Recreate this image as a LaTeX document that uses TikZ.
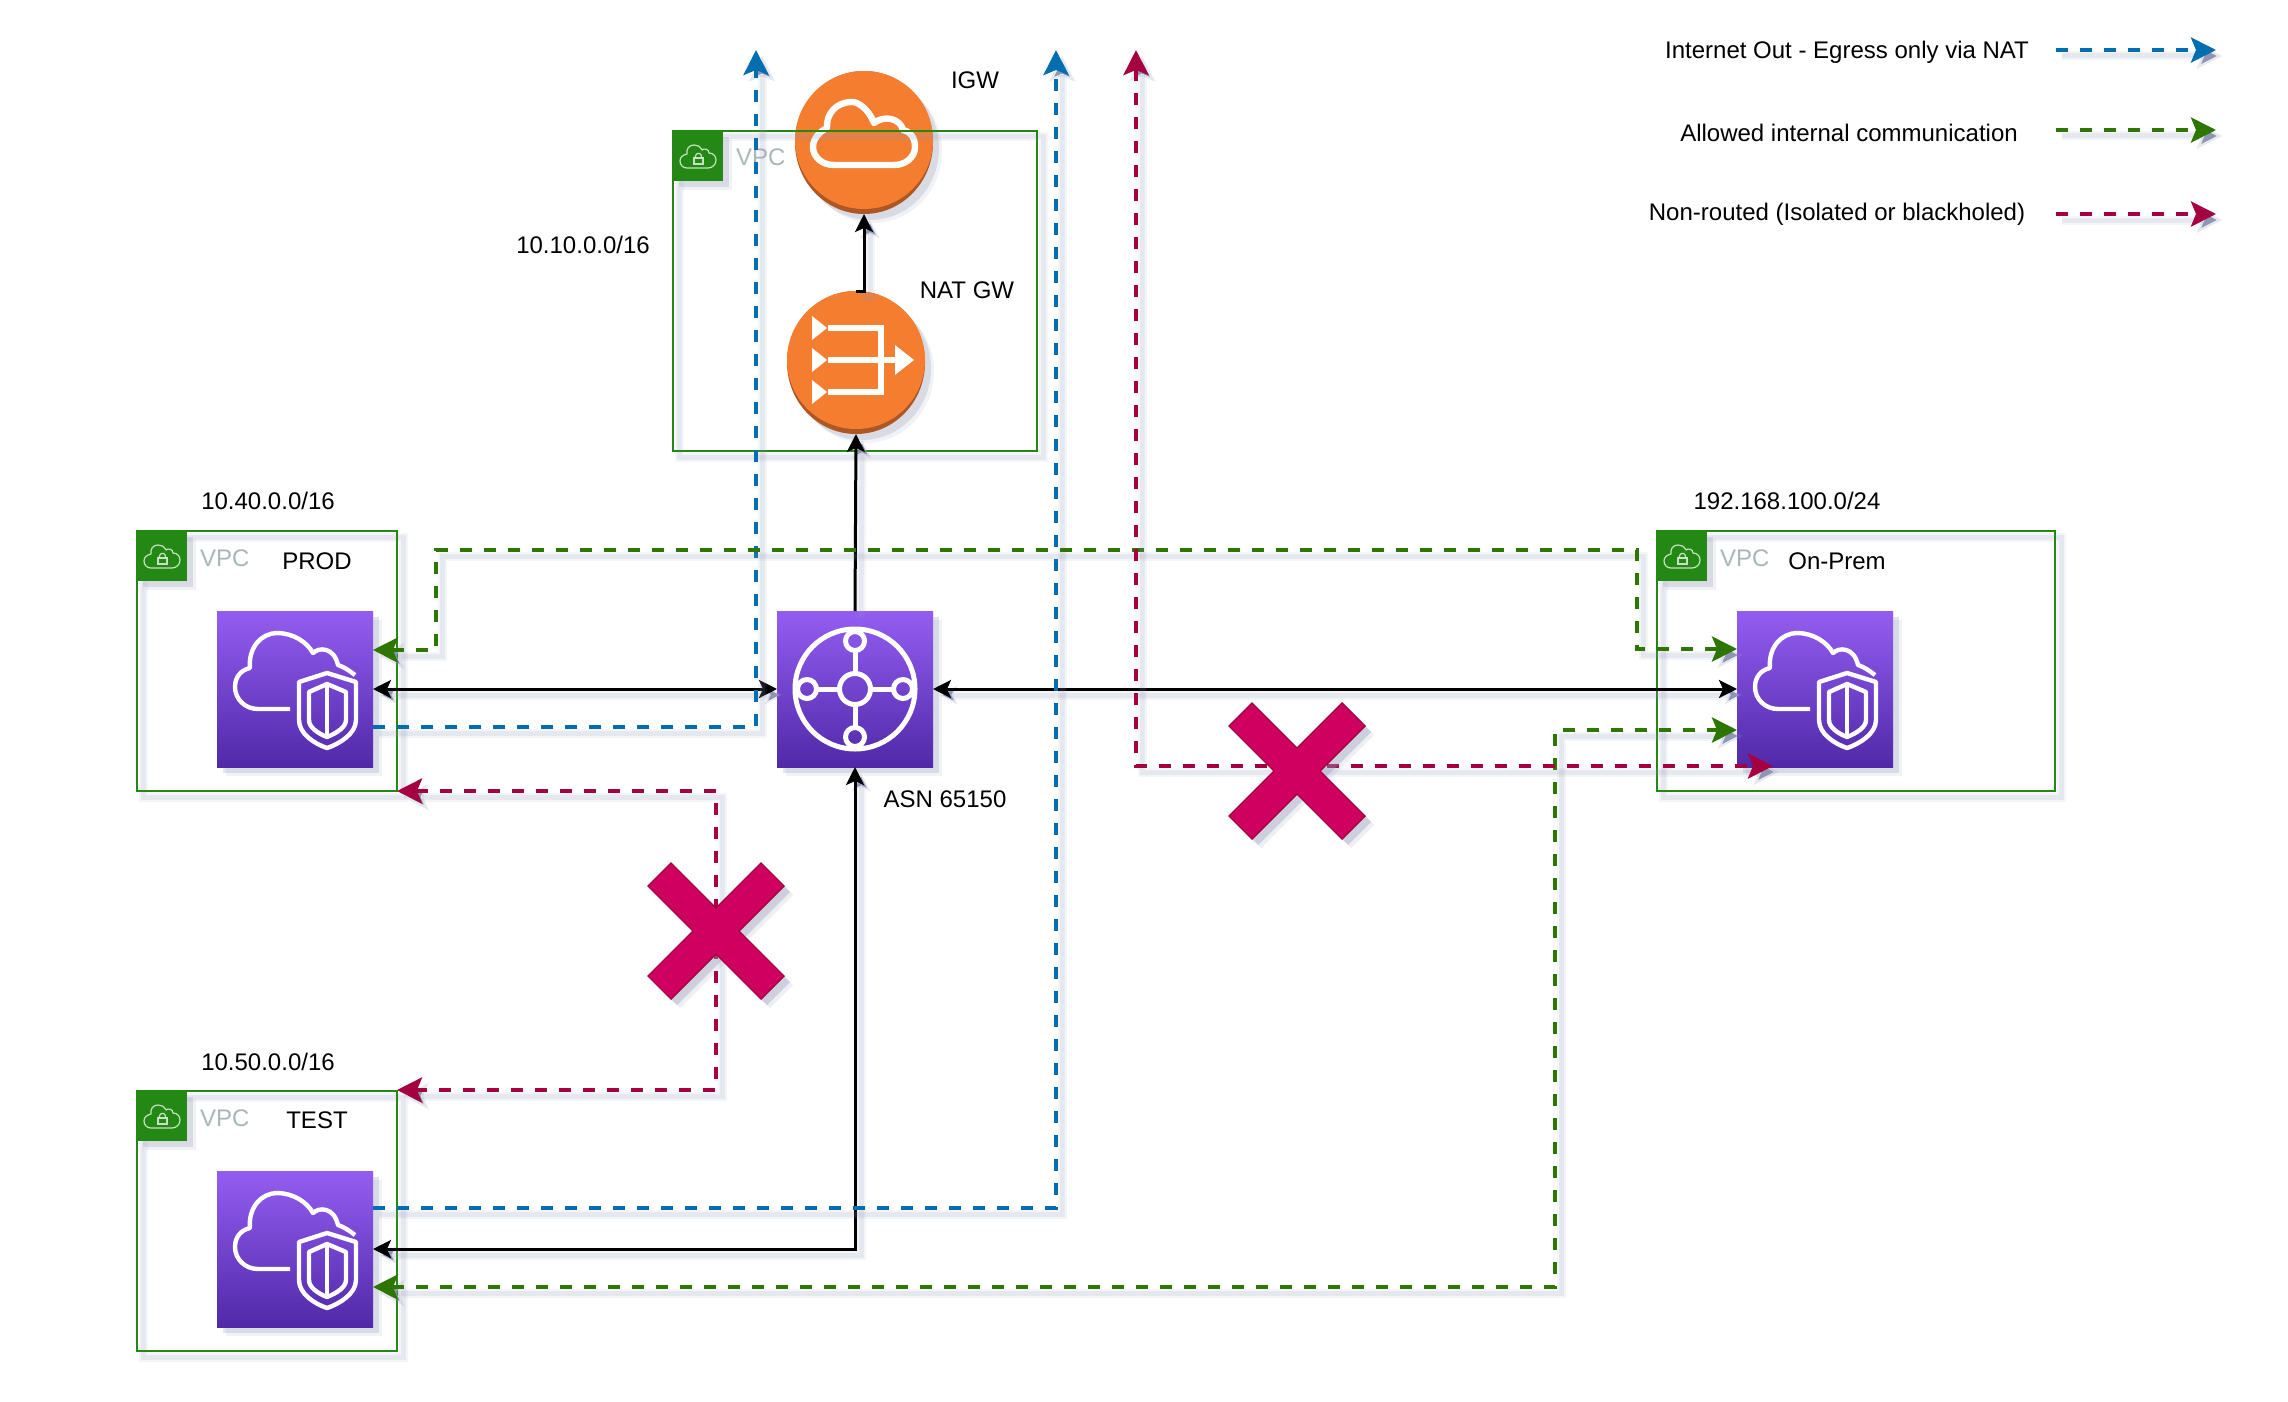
\documentclass[tikz,border=0pt]{standalone}
\usepackage{fontspec}
\setmainfont{Liberation Sans}
\usetikzlibrary{arrows.meta,shadows,calc,shapes.geometric}
\definecolor{shcol}{HTML}{8E96B4}
\definecolor{vpcgreen}{HTML}{248814}
\definecolor{vpcgrey}{HTML}{AAB7B8}
\definecolor{awsorange}{HTML}{F47D30}
\definecolor{awsdark}{HTML}{AD5724}
\definecolor{pTop}{HTML}{945DF2}
\definecolor{pBot}{HTML}{5029A8}
\definecolor{flowblue}{HTML}{006EAF}
\definecolor{flowgreen}{HTML}{2D7600}
\definecolor{flowred}{HTML}{A50040}
\definecolor{xfill}{HTML}{D00060}
\tikzset{
  gt/.tip={Stealth[length=25pt,width=25pt,inset=5pt]},
  bt/.tip={Stealth[length=18pt,width=18pt,inset=4pt]},
  softshadow/.style={
    drop shadow={shadow xshift=9pt,shadow yshift=-9pt,fill=shcol,opacity=.12},
    drop shadow={shadow xshift=6pt,shadow yshift=-6pt,fill=shcol,opacity=.25}},
  lineshadow/.style={
    preaction={draw=shcol,draw opacity=.09,line width=9pt,transform canvas={shift={(6pt,-6pt)}}},
    preaction={draw=shcol,draw opacity=.13,line width=5pt,transform canvas={shift={(6pt,-6pt)}}}},
  flowbase/.style={line width=4pt,dash pattern=on 12pt off 12pt,lineshadow},
  blueflow/.style={flowbase,draw=flowblue},
  greenflow/.style={flowbase,draw=flowgreen},
  redflow/.style={flowbase,draw=flowred},
  blackflow/.style={line width=3pt,draw=black,lineshadow},
  vpcbox/.style={draw=vpcgreen,line width=2.4pt,outer sep=0pt,inner sep=0pt,lineshadow},
  vpcbadge/.style={fill=vpcgreen,minimum size=50pt,inner sep=0pt,outer sep=0pt,softshadow},
  purplesq/.style={minimum size=156pt,inner sep=0pt,outer sep=0pt,top color=pTop,bottom color=pBot,softshadow},
  lipcircle/.style={ellipse,minimum width=138pt,minimum height=143pt,inner sep=0pt,outer sep=0pt,fill=awsdark,softshadow},
  label/.style={font=\fontsize{24}{28}\selectfont,text=black,inner sep=0pt},
  vpclabel/.style={font=\fontsize{24}{28}\selectfont,text=vpcgrey,inner sep=0pt,anchor=west},
  cloudshield/.pic={
    \draw[white,line width=4.4pt,line join=round,line cap=butt]
      (-5,20) -- (-37,20) .. controls (-50,20) and (-60,10) .. (-60,-2)
      .. controls (-60,-12) and (-54,-19) .. (-45,-21)
      .. controls (-47,-42) and (-33,-56) .. (-18,-56)
      .. controls (-2,-56) and (12,-47) .. (18,-36)
      .. controls (24,-42) and (39,-42) .. (43,-24)
      .. controls (49,-22) and (55,-18) .. (60,-14);
    \draw[white,line width=4.4pt,line join=round]
      (32,-16) -- (61,-7) -- (61,31) .. controls (61,45) and (44,55) .. (32,59)
      .. controls (20,55) and (4,45) .. (4,31) -- (4,-7) -- cycle;
    \draw[white,line width=4.4pt,line join=round]
      (32,-5) -- (51,3) -- (51,31) .. controls (51,38) and (42,44) .. (32,48)
      .. controls (22,44) and (14,38) .. (14,31) -- (14,3) -- cycle;
    \draw[white,line width=4.4pt] (32,-5) -- (32,48);
  },
  hubicon/.pic={
    \draw[white,line width=5pt] (0,0) circle[radius=60];
    \draw[white,line width=5pt] (0,0) circle[radius=15.5];
    \foreach \a in {0,90,180,270}{
      \draw[white,line width=5pt] (\a:15.5) -- (\a:38);
      \draw[white,line width=5pt] (\a:48) circle[radius=9.5];
    }
  },
  igwicon/.pic={
    \draw[white,line width=6.4pt,line join=round]
      (-30,25) -- (30,25) .. controls (42,25) and (51,17) .. (51,7)
      .. controls (51,-2) and (47,-8) .. (39,-10)
      .. controls (36,-22) and (20,-25) .. (10,-17)
      .. controls (5,-30) and (-5,-38) .. (-12,-38)
      .. controls (-28,-38) and (-38,-26) .. (-37,-12)
      .. controls (-45,-8) and (-51,-1) .. (-51,7)
      .. controls (-51,17) and (-42,25) .. (-30,25) -- cycle;
  },
  naticon/.pic={
    \fill[white] (-44,-44) -- (-44,-20) -- (-29,-32) -- cycle;
    \fill[white] (-44,-12) -- (-44,12) -- (-29,0) -- cycle;
    \fill[white] (-44,20) -- (-44,44) -- (-29,32) -- cycle;
    \draw[white,line width=6.4pt,line join=miter] (-28,-32) -- (25,-32) -- (25,32) -- (-28,32);
    \draw[white,line width=6.4pt] (-28,0) -- (40,0);
    \fill[white] (39,-15) -- (58,0) -- (39,15) -- cycle;
  },
  vpcicon/.pic={
    \draw[white,draw opacity=.75,line width=1.2pt,line join=round]
      (-11,12) -- (10,12) .. controls (15,12) and (18,8) .. (18,4)
      .. controls (18,0) and (15,-3) .. (11,-3)
      .. controls (11,-7) and (6,-8) .. (4,-6)
      .. controls (2,-10) and (-1,-11) .. (-4,-11)
      .. controls (-9,-11) and (-12,-7) .. (-11,-2)
      .. controls (-15,-1) and (-18,1) .. (-18,5)
      .. controls (-18,9) and (-15,12) .. (-11,12) -- cycle;
    \draw[white,draw opacity=.75,line width=1.2pt] (-4,2) rectangle (5,8);
    \draw[white,draw opacity=.75,line width=1.2pt] (-2.5,2) -- (-2.5,0) .. controls (-2.5,-3.5) and (3.5,-3.5) .. (3.5,0) -- (3.5,2);
  },
  xmarkshape/.pic={
    \fill[xfill,draw=flowred,line width=1.4pt,line join=miter,
      drop shadow={shadow xshift=9pt,shadow yshift=-9pt,fill=shcol,opacity=.15},
      drop shadow={shadow xshift=6pt,shadow yshift=-6pt,fill=shcol,opacity=.35}]
      (-45,-68) -- (0,-23) -- (45,-68) -- (68,-45) -- (23,0) -- (68,45)
      -- (45,68) -- (0,23) -- (-45,68) -- (-68,45) -- (-23,0) -- (-68,-45) -- cycle;
  },
}
\begin{document}
\begin{tikzpicture}[x=1pt,y=-1pt]
\useasboundingbox (0,0) rectangle (2288,1402);
\fill[white] (0,0) rectangle (2288,1402);

% internet gateway behind the VPC frame
\node[lipcircle] (igw) at (864,142.5) {};
\fill[awsorange] (864,140) circle[radius=69];
\pic at (864,140) {igwicon};

% VPC frames
\node[vpcbox,minimum width=364pt,minimum height=320pt] (natvpc) at (855,291) {};
\node[vpcbox,minimum width=260pt,minimum height=260pt] (prodvpc) at (267,661) {};
\node[vpcbox,minimum width=260pt,minimum height=260pt] (testvpc) at (267,1221) {};
\node[vpcbox,minimum width=398pt,minimum height=260pt] (onpremvpc) at (1856,661) {};

% VPC badges
\node[vpcbadge] (natbadge) at (698,156) {};
\node[vpcbadge] (prodbadge) at (162,556) {};
\node[vpcbadge] (testbadge) at (162,1116) {};
\node[vpcbadge] (onprembadge) at (1682,556) {};
\pic at (698,156) {vpcicon};
\pic at (162,556) {vpcicon};
\pic at (162,1116) {vpcicon};
\pic at (1682,556) {vpcicon};
\node[vpclabel] (natvpctext) at (736,157) {VPC};
\node[vpclabel] (prodvpctext) at (200,558) {VPC};
\node[vpclabel] (testvpctext) at (200,1118) {VPC};
\node[vpclabel] (onpremvpctext) at (1720,558) {VPC};

% NAT gateway
\node[lipcircle] (nat) at (856,362.5) {};
\fill[awsorange] (856,360) circle[radius=69];
\pic at (856,360) {naticon};

% purple squares
\node[purplesq] (prod) at (295,689) {};
\node[purplesq] (test) at (295,1249) {};
\node[purplesq] (onprem) at (1815,689) {};
\node[purplesq] (tgw) at (855,689) {};
\pic at (295,689) {cloudshield};
\pic at (295,1249) {cloudshield};
\pic at (1815,689) {cloudshield};
\pic at (855,689) {hubicon};

% labels
\node[label] (lnatcidr) at (583,245) {10.10.0.0/16};
\node[label] (lprodcidr) at (268,501) {10.40.0.0/16};
\node[label] (ltestcidr) at (268,1062) {10.50.0.0/16};
\node[label] (lonpcidr) at (1787,501) {192.168.100.0/24};
\node[label] (ligw) at (975,80) {IGW};
\node[label] (lnat) at (967,290) {NAT GW};
\node[label] (lprod) at (317,561) {PROD};
\node[label] (ltest) at (317,1120) {TEST};
\node[label] (lonp) at (1837,561) {On-Prem};
\node[label] (lasn) at (945,799) {ASN 65150};
\node[label] (leg1) at (1847,52) {Internet Out - Egress only via NAT};
\node[label] (leg2) at (1849,133) {Allowed internal communication};
\node[label] (leg3) at (1837,214) {Non-routed (Isolated or blackholed)};

% free ends
\coordinate (outa) at (756,50);
\coordinate (outb) at (1056,50);
\coordinate (outc) at (1136,50);
\coordinate (redend) at (1773,766);
\coordinate (leg1a) at (2056,50);
\coordinate (leg1b) at (2216,50);
\coordinate (leg2a) at (2056,130);
\coordinate (leg2b) at (2216,130);
\coordinate (leg3a) at (2056,214);
\coordinate (leg3b) at (2216,214);

% black links
\draw[blackflow,-bt] (nat.north) -| (igw.south);
\draw[blackflow,-bt] (tgw.north) -- (nat.south);
\draw[blackflow,bt-bt] (prod.east) -- (tgw.west);
\draw[blackflow,bt-bt] (tgw.east) -- (onprem.west);
\draw[blackflow,bt-bt] (tgw.south) |- (test.east);

% blue egress
\draw[blueflow,-gt] ([yshift=-38pt]prod.east) -| (outa);
\draw[blueflow,-gt] ([yshift=41pt]test.east) -| (outb);

% green allowed
\draw[greenflow,gt-gt] ([yshift=39pt]prod.east) -- (436,650) -- (436,550) -- (1637,550) -- (1637,649) -- ([yshift=40pt]onprem.west);
\draw[greenflow,gt-gt] ([yshift=-38pt]test.east) -- (1555,1287) -- (1555,730) -- ([yshift=-41pt]onprem.west);

% red non-routed
\draw[redflow,gt-gt] (outc) |- (redend);
\draw[redflow,gt-gt] (prodvpc.south east) -- (716,791) -- (716,1090) -- ([yshift=1pt]testvpc.north east);

% crosses
\pic at (1297,771) {xmarkshape};
\pic at (716,931) {xmarkshape};

% legend
\draw[blueflow,-gt] (leg1a) -- (leg1b);
\draw[greenflow,-gt] (leg2a) -- (leg2b);
\draw[redflow,-gt] (leg3a) -- (leg3b);
\end{tikzpicture}
\end{document}
